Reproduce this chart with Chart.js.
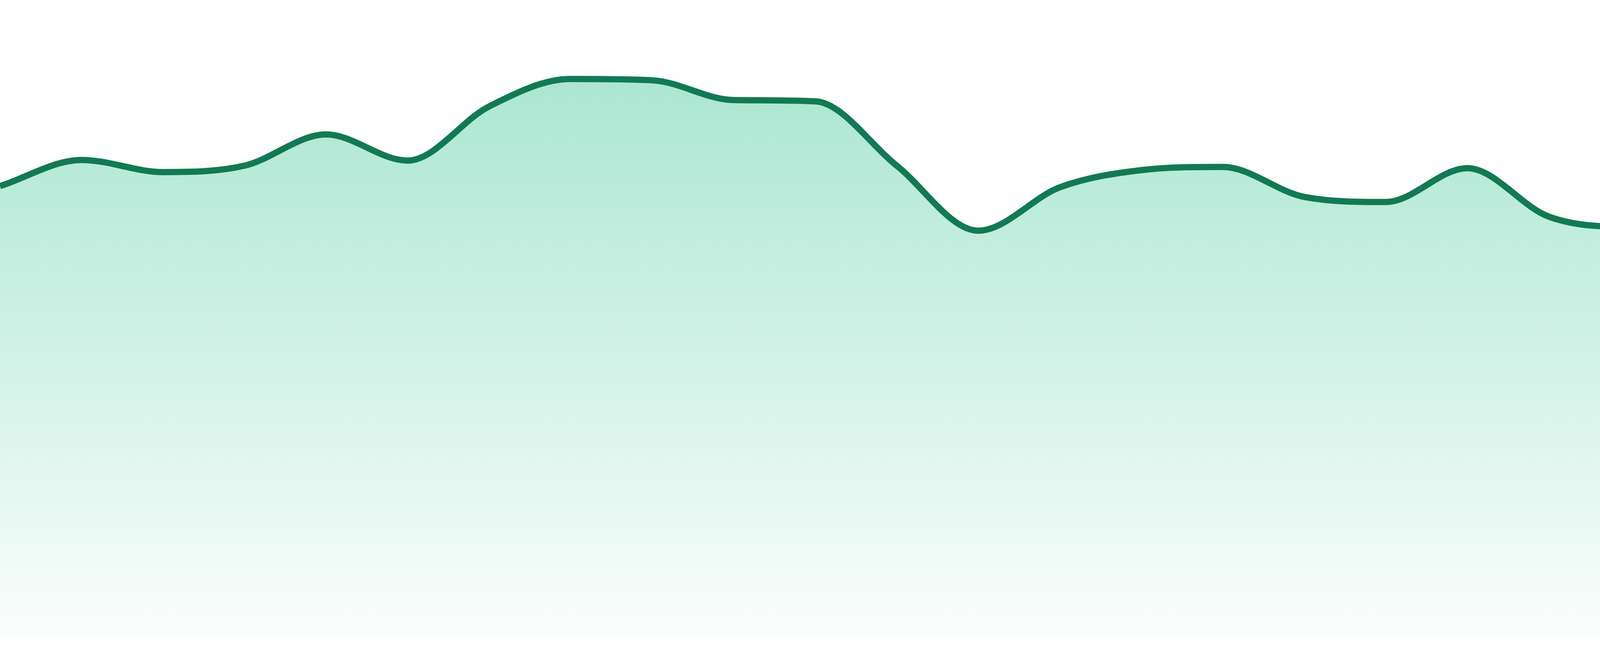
<!DOCTYPE html>
<html>
<head>
<meta charset="utf-8">
<script src="https://cdn.jsdelivr.net/npm/chart.js@4.4.0/dist/chart.umd.min.js"></script>
<style>
  html, body { margin: 0; padding: 0; background: #ffffff; }
  #wrap { width: 4800px; height: 1680px; position: relative; }
</style>
</head>
<body>
<div id="wrap"><canvas id="areaChart"></canvas></div>
<script>
// points of the series, one per slot
const labels = ['1', '2', '3', '4', '5', '6', '7', '8', '9', '10', '11', '12',
                '13', '14', '15', '16', '17', '18', '19', '20', '21', '22', '23', '24'];
const values = [70.8, 74.9, 73.0, 74.0, 78.9, 74.8, 83.3, 87.6, 87.4, 84.3, 84.1, 74.0,
                63.8, 70.6, 73.3, 73.8, 69.1, 68.3, 73.6, 66.0, 64.4, 65.1, 71.0, 64.1];
const yMin = 0;
const yMax = 100;

document.addEventListener('DOMContentLoaded', () => {
    const ctx = document.getElementById('areaChart').getContext('2d');

    new Chart(ctx, {
        type: 'line',
        data: {
            labels: labels,
            datasets: [{
                data: values,
                borderColor: '#127a52',
                borderWidth: 16,
                pointRadius: 0,
                cubicInterpolationMode: 'monotone',
                fill: 'start',
                backgroundColor: function(context) {
                    const area = context.chart.chartArea;
                    if (!area) return 'rgba(16, 185, 129, 0.3)';
                    const g = context.chart.ctx.createLinearGradient(0, area.top, 0, area.bottom);
                    g.addColorStop(0, 'rgba(16, 185, 129, 0.40)');
                    g.addColorStop(1, 'rgba(16, 185, 129, 0.02)');
                    return g;
                }
            }]
        },
        options: {
            responsive: true,
            maintainAspectRatio: false,
            animation: false,
            devicePixelRatio: 1,
            layout: { padding: { top: 0, left: 0, right: 0, bottom: 48 } },
            plugins: {
                legend: { display: false },
                tooltip: { enabled: false }
            },
            scales: {
                x: { display: false, offset: false },
                y: { display: false, min: yMin, max: yMax }
            }
        }
    });
});
</script>
</body>
</html>
